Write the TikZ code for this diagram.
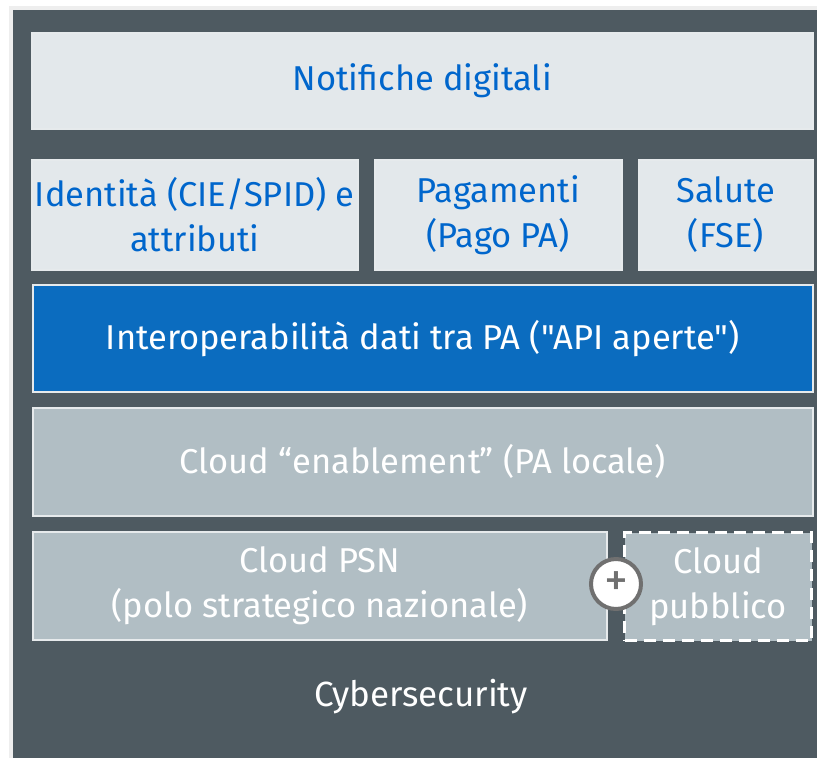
\documentclass[tikz,border=0pt]{standalone}
\usepackage{fontspec}
\setmainfont{Fira Sans}[Ligatures=TeXOff]
\usetikzlibrary{positioning}

\definecolor{frame}{HTML}{4E5A61}
\definecolor{paleline}{HTML}{EEEEEE}
\definecolor{lightbox}{HTML}{E3E8EB}
\definecolor{greybox}{HTML}{B1BEC4}
\definecolor{bluebox}{HTML}{0B6CBF}
\definecolor{bluetext}{HTML}{0066CC}
\definecolor{edgeline}{HTML}{E6EAEC}
\definecolor{plusgrey}{HTML}{707070}

\begin{document}
\begin{tikzpicture}[x=1pt,y=-1pt,
        box/.style={draw=edgeline,line width=1.5pt,anchor=north west,
          inner sep=0pt,align=center,font=\fontsize{34.5}{45}\selectfont},
        service/.style={box,fill=lightbox,text=bluetext},
        layer/.style={box,fill=greybox,text=white}]
      % frame
      \fill[white] (0,0) rectangle (817,758);
      \fill[paleline] (9,6) rectangle (817,758);
      \fill[frame] (13,10) rectangle (817,758);
      \useasboundingbox (0,0) rectangle (817,758);
      % services
      \node[service,minimum width=781pt,minimum height=96pt] (notif) at (31,32) {Notifiche digitali};
      \node[service,minimum width=326pt,minimum height=110pt] (ident) at (31,159) {Identità (CIE/SPID) e\\attributi};
      \node[service,minimum width=247pt,minimum height=110pt] (pagam) at (374,159) {Pagamenti\\(Pago PA)};
      \node[service,minimum width=174pt,minimum height=110pt] (salute) at (638,159) {Salute\\(FSE)};
      % layers
      \node[box,fill=bluebox,text=white,minimum width=780pt,minimum height=107pt] (interop) at (32,284) {Interoperabilità dati tra PA ("API aperte")};
      \node[layer,minimum width=780pt,minimum height=108pt] (enable) at (32,407) {Cloud “enablement” (PA locale)};
      \node[layer,minimum width=574pt,minimum height=108pt] (psn) at (32,531) {Cloud PSN\\(polo strategico nazionale)};
      \node[layer,draw=white,dashed,dash pattern=on 12pt off 7pt,line width=3pt,minimum width=187pt,minimum height=108pt] (pubblico) at (623,531) {Cloud\\pubblico};
      \node[circle,draw=plusgrey,line width=4pt,fill=white,text=plusgrey,minimum size=50pt,inner sep=0pt,font=\fontsize{48}{48}\selectfont] (plus) at (616,584) {+};
      \node[text=white,font=\fontsize{35}{42}\selectfont] (cyber) at (421,697) {Cybersecurity};
    \end{tikzpicture}
\end{document}
